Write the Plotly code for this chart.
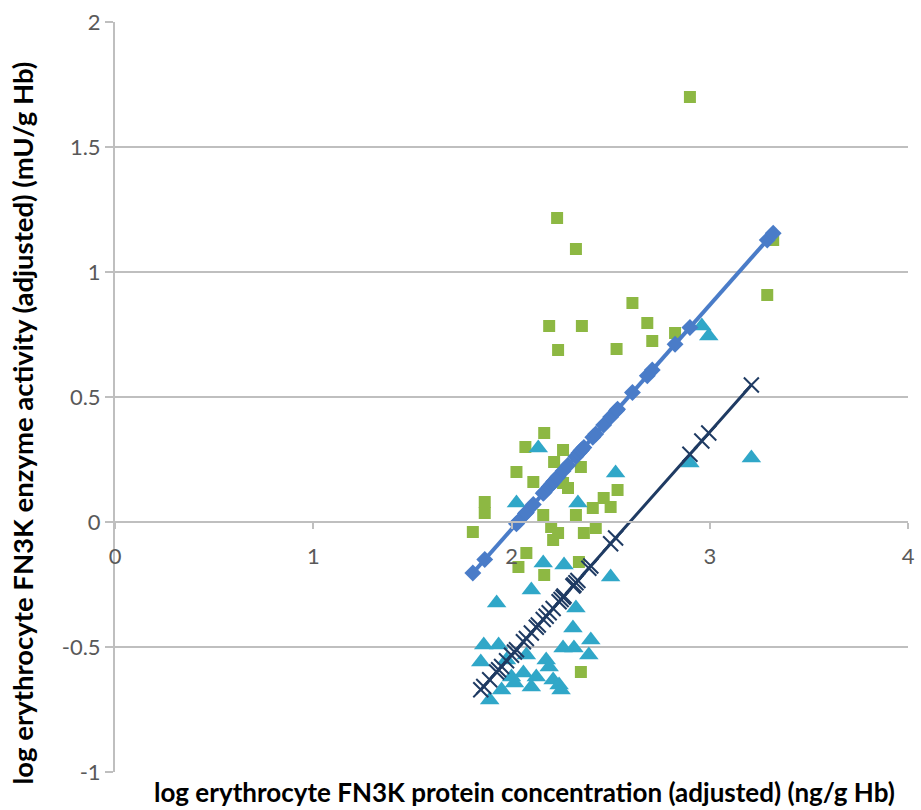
import plotly.graph_objects as go

# Green squares (observed, group A)
green_x = [2.90, 2.23, 2.325, 2.19, 2.355, 2.235, 2.61, 2.685, 2.71, 2.53, 2.825, 3.29, 3.32,
           2.165, 2.07, 2.025, 2.11, 2.215, 2.26, 2.26, 2.35, 2.285, 2.535, 2.465, 2.50, 2.41,
           2.325, 2.425, 2.365, 2.235, 1.865, 1.865, 1.805, 2.16, 2.20, 2.21, 2.075, 2.035,
           2.165, 2.34, 2.35]
green_y = [1.70, 1.216, 1.092, 0.784, 0.784, 0.688, 0.876, 0.796, 0.724, 0.692, 0.756, 0.908, 1.128,
           0.356, 0.30, 0.20, 0.16, 0.24, 0.288, 0.156, 0.22, 0.136, 0.128, 0.096, 0.06, 0.056,
           0.028, -0.024, -0.044, -0.044, 0.08, 0.036, -0.04, 0.028, -0.02, -0.072, -0.124, -0.18,
           -0.212, -0.16, -0.60]

# Cyan triangles (observed, group B)
cyan_x = [2.135, 2.525, 2.025, 2.335, 2.16, 2.265, 2.50, 2.10, 1.925, 2.325, 2.31, 2.40, 2.26,
          2.315, 2.39, 1.86, 1.935, 2.06, 2.125, 2.21, 2.24, 2.015, 1.95, 1.89, 2.25, 2.995,
          2.96, 2.90, 3.21, 1.975, 2.075, 2.175, 1.845, 2.0, 2.10, 2.19]
cyan_y = [0.296, 0.196, 0.076, 0.076, -0.164, -0.172, -0.22, -0.272, -0.324, -0.344, -0.424,
          -0.472, -0.504, -0.504, -0.532, -0.492, -0.492, -0.604, -0.62, -0.632, -0.652, -0.644,
          -0.672, -0.712, -0.672, 0.744, 0.784, 0.236, 0.256, -0.552, -0.532, -0.552, -0.56,
          -0.62, -0.66, -0.58]

# Fitted values, group A (diamonds)
fitA_x = [1.805, 1.865, 2.025, 2.035, 2.07, 2.075, 2.11, 2.16, 2.165, 2.19, 2.20, 2.21, 2.215,
          2.23, 2.235, 2.26, 2.285, 2.325, 2.34, 2.35, 2.355, 2.365, 2.41, 2.425, 2.465, 2.50,
          2.53, 2.535, 2.61, 2.685, 2.71, 2.825, 2.90, 3.29, 3.32]
fitA_y = [-0.204, -0.150, -0.007, 0.002, 0.034, 0.038, 0.070, 0.115, 0.119, 0.141, 0.150, 0.159,
          0.164, 0.177, 0.182, 0.204, 0.227, 0.262, 0.276, 0.285, 0.289, 0.298, 0.339, 0.352,
          0.388, 0.420, 0.446, 0.451, 0.518, 0.585, 0.608, 0.711, 0.778, 1.128, 1.155]

# Fitted values, group B (x markers)
fitB_x = [1.845, 1.86, 1.89, 1.925, 1.935, 1.95, 1.975, 2.0, 2.015, 2.025, 2.06, 2.075, 2.10,
          2.125, 2.135, 2.16, 2.175, 2.19, 2.21, 2.24, 2.25, 2.26, 2.265, 2.31, 2.315, 2.325,
          2.335, 2.39, 2.40, 2.50, 2.525, 2.90, 2.96, 2.995, 3.21]
fitB_y = [-0.671, -0.658, -0.631, -0.600, -0.591, -0.578, -0.555, -0.533, -0.520, -0.511, -0.479,
          -0.466, -0.444, -0.421, -0.412, -0.390, -0.377, -0.363, -0.346, -0.319, -0.310, -0.301,
          -0.296, -0.256, -0.252, -0.243, -0.234, -0.185, -0.176, -0.087, -0.064, 0.271, 0.324,
          0.356, 0.548]

x_ticks = [0, 1, 2, 3, 4]
y_ticks = [-1, -0.5, 0, 0.5, 1, 1.5, 2]
y_tick_text = ["-1", "-0.5", "0", "0.5", "1", "1.5", "2"]

GREEN = "#8DB843"
CYAN = "#30A7C8"
BLUE = "#4A7CC8"
NAVY = "#1F3B63"
GRID = "#BFBFBF"
TXT = "#595959"
FONT = "Lato, 'Open Sans', sans-serif"

fig = go.Figure()
fig.add_trace(go.Scatter(x=green_x, y=green_y, mode="markers",
                         marker=dict(symbol="square", size=12, color=GREEN), showlegend=False))
fig.add_trace(go.Scatter(x=cyan_x, y=cyan_y, mode="markers",
                         marker=dict(symbol="triangle-up", size=17, color=CYAN), showlegend=False))
fig.add_trace(go.Scatter(x=fitA_x, y=fitA_y, mode="lines+markers",
                         line=dict(color=BLUE, width=4),
                         marker=dict(symbol="diamond", size=13, color=BLUE), showlegend=False))
fig.add_trace(go.Scatter(x=fitB_x, y=fitB_y, mode="lines+markers",
                         line=dict(color=NAVY, width=3),
                         marker=dict(symbol="x-thin", size=15, line=dict(color=NAVY, width=2)),
                         showlegend=False))

fig.update_layout(
    width=921, height=810,
    margin=dict(l=115, r=6, t=22, b=38),
    paper_bgcolor="white", plot_bgcolor="white",
    font=dict(family=FONT, color=TXT),
    xaxis=dict(range=[0, 4], tickvals=x_ticks, ticktext=[str(v) for v in x_ticks],
               anchor="free", position=1/3, showgrid=False, zeroline=False,
               showline=True, linecolor=GRID, linewidth=2,
               ticks="outside", ticklen=6, tickcolor=GRID, tickwidth=2,
               ticklabelstandoff=9, ticklabeloverflow="allow",
               tickfont=dict(size=22, color=TXT, family=FONT)),
    yaxis=dict(range=[-1, 2], tickvals=y_ticks, ticktext=y_tick_text,
               showgrid=True, gridcolor=GRID, gridwidth=2, zeroline=False,
               showline=True, linecolor=GRID, linewidth=2,
               ticks="outside", ticklen=8, tickcolor=GRID, tickwidth=2,
               tickfont=dict(size=22, color=TXT, family=FONT)),
)

fig.add_annotation(text="<b>log erythrocyte FN3K protein concentration (adjusted) (ng/g Hb)</b>",
                   xref="paper", yref="paper", x=0.517, y=-0.0267, yanchor="middle", xanchor="center",
                   showarrow=False, font=dict(size=26, color="#000000", family=FONT))
fig.add_annotation(text="<b>log erythrocyte FN3K enzyme activity (adjusted) (mU/g Hb)</b>",
                   xref="paper", yref="paper", x=-0.117, y=0.465, textangle=-90,
                   xanchor="center", yanchor="middle",
                   showarrow=False, font=dict(size=27.5, color="#000000", family=FONT))

fig.write_html("out.html")
